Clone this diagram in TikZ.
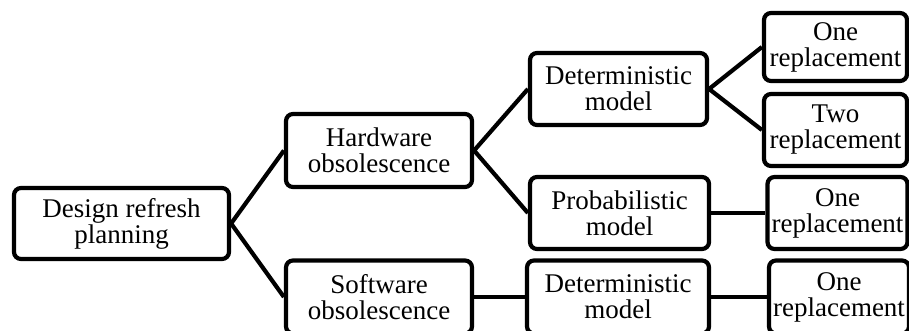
\documentclass[tikz,border=0pt]{standalone}
\usepackage{fontspec}
\setmainfont{Liberation Serif}
\begin{document}
\begin{tikzpicture}[x=1pt,y=-1pt,
  box/.style={draw=black, line width=4.2pt, rounded corners=7pt, fill=white,
    inner sep=0pt, align=center, font=\fontsize{27}{26}\selectfont},
  link/.style={draw=black, line width=4.2pt}]
\useasboundingbox (0,0) rectangle (909,331);
\clip (0,0) rectangle (909,331);
\node[box, minimum width=215pt, minimum height=71pt] (root) at (121.5,223.5) {Design refresh\\planning};
\node[box, minimum width=186pt, minimum height=73pt] (hw) at (379,150.5) {Hardware\\obsolescence};
\node[box, minimum width=186pt, minimum height=73pt] (sw) at (379,297) {Software\\obsolescence};
\node[box, minimum width=177pt, minimum height=72pt] (det1) at (618.5,89) {Deterministic\\model};
\node[box, minimum width=179pt, minimum height=72pt] (prob) at (619.5,213) {Probabilistic\\model};
\node[box, minimum width=182pt, minimum height=73pt] (det2) at (618,297) {Deterministic\\model};
\node[box, minimum width=143pt, minimum height=68pt] (one1) at (835.5,47) {One\\replacement};
\node[box, minimum width=143pt, minimum height=72pt] (two) at (835.5,130) {Two\\replacement};
\node[box, minimum width=140pt, minimum height=72pt] (one2) at (837.5,213) {One\\replacement};
\node[box, minimum width=140pt, minimum height=73pt] (one3) at (839,297) {One\\replacement};
\draw[link] (root.east) -- (hw.west);
\draw[link] (root.east) -- (sw.west);
\draw[link] (hw.east) -- (det1.west);
\draw[link] (hw.east) -- (prob.west);
\draw[link] (sw.east) -- (det2.west);
\draw[link] (det1.east) -- (one1.west);
\draw[link] (det1.east) -- (two.west);
\draw[link] (prob.east) -- (one2.west);
\draw[link] (det2.east) -- (one3.west);
\end{tikzpicture}
\end{document}
